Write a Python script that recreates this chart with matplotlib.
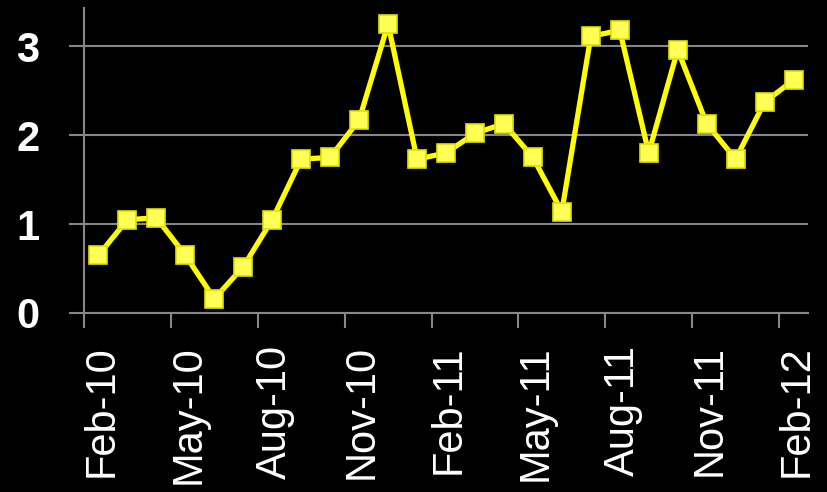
import matplotlib
matplotlib.use("Agg")
import matplotlib.pyplot as plt
import matplotlib.transforms as mtransforms
import numpy as np

months = ["Feb-10", "Mar-10", "Apr-10", "May-10", "Jun-10", "Jul-10", "Aug-10",
          "Sep-10", "Oct-10", "Nov-10", "Dec-10", "Jan-11", "Feb-11", "Mar-11",
          "Apr-11", "May-11", "Jun-11", "Jul-11", "Aug-11", "Sep-11", "Oct-11",
          "Nov-11", "Dec-11", "Jan-12", "Feb-12"]
values = [0.65, 1.05, 1.07, 0.65, 0.16, 0.52, 1.05, 1.73, 1.75, 2.17, 3.25,
          1.73, 1.80, 2.02, 2.13, 1.75, 1.14, 3.11, 3.18, 1.80, 2.96, 2.13,
          1.73, 2.37, 2.62]
y_ticks = [0, 1, 2, 3]
label_step = 3

fig = plt.figure(figsize=(8.27, 4.92), dpi=100, facecolor="black")
ax = fig.add_axes([84/827, 179/492, (808-84)/827, (313-8)/492], facecolor="black")

x = np.arange(len(months))
ax.plot(x, values, color="#FFFF00", linewidth=3.8, marker="s", markersize=13.5,
        markerfacecolor="#FFFF55", markeredgecolor="#E0E000", markeredgewidth=1.2,
        zorder=3)

ax.set_xlim(-0.5, len(months) - 0.5)
ax.set_ylim(0, 3.43)

grey = "#878787"
ax.set_yticks(y_ticks)
ax.set_yticklabels([str(v) for v in y_ticks], fontsize=30, fontweight="bold",
                   color="white", family="Liberation Sans")
ax.grid(axis="y", color=grey, linewidth=1.5, zorder=1)
ax.tick_params(axis="y", length=11, width=1.5, color=grey, pad=21)

lab_pos = x[::label_step]
ax.set_xticks(lab_pos)
ax.set_xticklabels([months[i] for i in lab_pos], rotation=90, fontsize=30,
                   color="white", family="Liberation Sans")
ax.tick_params(axis="x", which="major", length=0, pad=23)
ax.set_xticks(lab_pos - 0.5, minor=True)
ax.tick_params(axis="x", which="minor", length=11, width=1.5, color=grey)

offset = mtransforms.ScaledTranslation(3/100, 0, fig.dpi_scale_trans)
for lbl in ax.get_xticklabels():
    lbl.set_transform(lbl.get_transform() + offset)

for s in ["top", "right"]:
    ax.spines[s].set_visible(False)
for s in ["left", "bottom"]:
    ax.spines[s].set_color(grey)
    ax.spines[s].set_linewidth(1.5)

fig.savefig("out.png", dpi=100, facecolor="black")
